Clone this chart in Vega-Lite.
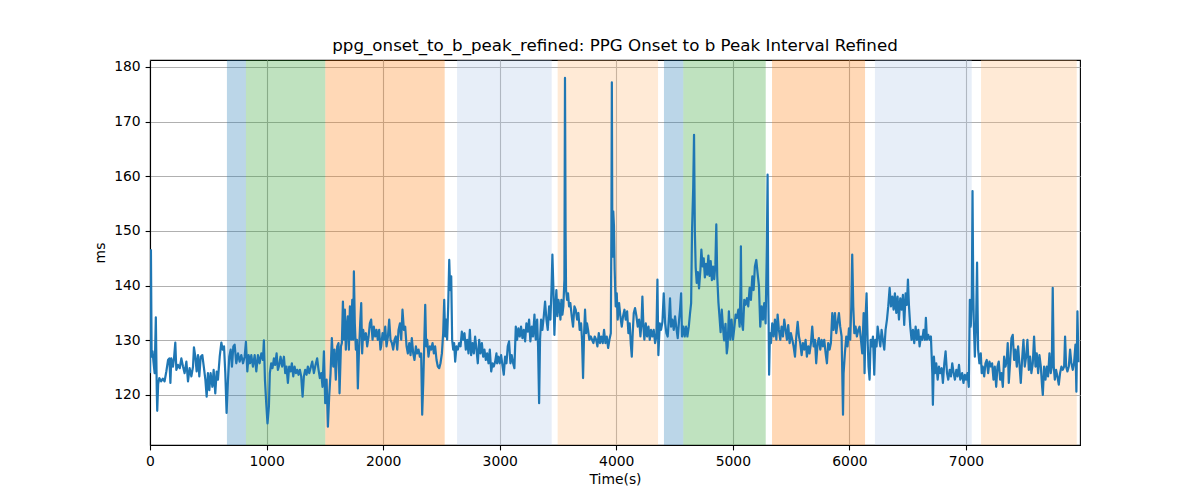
{
"$schema": "https://vega.github.io/schema/vega-lite/v6.json",
"width": 930, "height": 385,
"autosize": {"type": "none"},
"padding": {"left": 150, "top": 60, "right": 120, "bottom": 55},
"background": "white",
"title": {"text": "ppg_onset_to_b_peak_refined: PPG Onset to b Peak Interval Refined", "fontSize": 16.7, "fontWeight": "normal", "font": "DejaVu Sans", "color": "black", "offset": 5},
"config": {
  "view": {"stroke": "black", "strokeWidth": 1.1},
  "axis": {"grid": true, "gridColor": "#b0b0b0", "gridWidth": 1.1, "tickColor": "black", "tickSize": 4.9, "tickWidth": 1.1, "domainColor": "black", "domainWidth": 1.1, "labelFont": "DejaVu Sans", "labelFontSize": 13.9, "labelColor": "black", "labelPadding": 4.9, "titleFont": "DejaVu Sans", "titleFontSize": 13.9, "titleFontWeight": "normal", "titleColor": "black", "labelFlush": false, "labelOverlap": false}
},
"datasets": {
"bands": [
{"start": 660, "end": 823, "phase": "p1"},
{"start": 823, "end": 1504, "phase": "p2"},
{"start": 1504, "end": 2528, "phase": "p3"},
{"start": 2634, "end": 3446, "phase": "p4"},
{"start": 3497, "end": 4358, "phase": "p5"},
{"start": 4409, "end": 4575, "phase": "p1"},
{"start": 4575, "end": 5282, "phase": "p2"},
{"start": 5336, "end": 6134, "phase": "p3"},
{"start": 6219, "end": 7049, "phase": "p4"},
{"start": 7129, "end": 7950, "phase": "p5"}
],
"series": [
{"t":0,"v":124},{"t":8,"v":146.5},{"t":14,"v":127},{"t":22,"v":128},{"t":30,"v":126},{"t":40,"v":124},{"t":50,"v":134.2},{"t":58,"v":121},{"t":62,"v":117.1},{"t":70,"v":122},{"t":80,"v":123.1},{"t":95,"v":122.5},{"t":110,"v":123},{"t":125,"v":122.5},{"t":140,"v":124.3},{"t":155,"v":126.4},{"t":166,"v":126.7},{"t":175,"v":122.2},{"t":183,"v":126.7},{"t":197,"v":125.2},{"t":206,"v":126.7},{"t":217,"v":129.6},{"t":226,"v":124.6},{"t":240,"v":125.5},{"t":255,"v":124.9},{"t":269,"v":126.7},{"t":283,"v":125.2},{"t":297,"v":124},{"t":312,"v":126.1},{"t":326,"v":122.5},{"t":340,"v":124.9},{"t":355,"v":123.4},{"t":369,"v":125.2},{"t":377,"v":128.7},{"t":389,"v":127},{"t":400,"v":124.3},{"t":412,"v":127.3},{"t":423,"v":123.4},{"t":435,"v":127},{"t":449,"v":127.3},{"t":463,"v":124.9},{"t":475,"v":122.8},{"t":486,"v":119.7},{"t":497,"v":124},{"t":509,"v":120.9},{"t":520,"v":124},{"t":535,"v":121.5},{"t":546,"v":124.6},{"t":560,"v":120.3},{"t":572,"v":124.3},{"t":583,"v":122.8},{"t":598,"v":127},{"t":612,"v":129.6},{"t":623,"v":128.3},{"t":635,"v":128.9},{"t":646,"v":124},{"t":657,"v":116.7},{"t":669,"v":122.8},{"t":680,"v":127},{"t":692,"v":128.3},{"t":703,"v":125.2},{"t":715,"v":128.9},{"t":726,"v":129.2},{"t":740,"v":125.8},{"t":755,"v":127.6},{"t":769,"v":126.1},{"t":783,"v":127.3},{"t":798,"v":125.8},{"t":812,"v":127},{"t":823,"v":129.7},{"t":835,"v":124.3},{"t":846,"v":127.3},{"t":858,"v":125.8},{"t":869,"v":127.3},{"t":883,"v":125.2},{"t":898,"v":127.3},{"t":912,"v":124.3},{"t":926,"v":127.3},{"t":940,"v":125.8},{"t":955,"v":127.6},{"t":969,"v":126.4},{"t":977,"v":130},{"t":986,"v":122.8},{"t":997,"v":118.5},{"t":1008,"v":114.8},{"t":1020,"v":117.9},{"t":1028,"v":124},
{"t":1040,"v":125.8},{"t":1051,"v":124.9},{"t":1063,"v":126.7},{"t":1074,"v":125.5},{"t":1086,"v":127.6},{"t":1097,"v":124.6},{"t":1109,"v":125.5},{"t":1120,"v":127},{"t":1134,"v":125.2},{"t":1149,"v":127},{"t":1160,"v":124},{"t":1171,"v":125.2},{"t":1183,"v":122.2},{"t":1194,"v":125.2},{"t":1206,"v":124.3},{"t":1217,"v":125.8},{"t":1229,"v":123.4},{"t":1240,"v":125.2},{"t":1252,"v":124},{"t":1263,"v":124.6},{"t":1274,"v":123.7},{"t":1286,"v":124.6},{"t":1297,"v":123.4},{"t":1309,"v":119.7},{"t":1320,"v":123.4},{"t":1331,"v":124.6},{"t":1343,"v":123.7},{"t":1354,"v":125.2},{"t":1366,"v":124},{"t":1377,"v":124.9},{"t":1392,"v":126.1},{"t":1406,"v":124},{"t":1420,"v":125.5},{"t":1434,"v":126.7},{"t":1446,"v":124.6},{"t":1457,"v":123.1},{"t":1469,"v":124},{"t":1480,"v":121.5},{"t":1492,"v":128},{"t":1503,"v":118.5},{"t":1515,"v":122.8},{"t":1526,"v":114.2},{"t":1537,"v":119.7},{"t":1549,"v":124},{"t":1560,"v":130.4},{"t":1572,"v":125.2},{"t":1583,"v":128.3},{"t":1594,"v":122.8},{"t":1606,"v":128.9},{"t":1617,"v":129.5},{"t":1626,"v":120.3},{"t":1638,"v":128.9},{"t":1646,"v":129.5},{"t":1655,"v":137.1},{"t":1663,"v":130.1},{"t":1672,"v":135.6},{"t":1680,"v":128.3},{"t":1689,"v":132.5},{"t":1697,"v":134.4},{"t":1706,"v":128.3},{"t":1715,"v":136.2},{"t":1726,"v":130.1},{"t":1735,"v":137.4},{"t":1743,"v":130.1},{"t":1749,"v":142.6},{"t":1757,"v":133.1},{"t":1766,"v":128.3},{"t":1775,"v":130.1},{"t":1783,"v":121.2},{"t":1792,"v":127.6},{"t":1803,"v":133.1},{"t":1812,"v":136.8},{"t":1820,"v":127.6},{"t":1829,"v":131.9},{"t":1840,"v":130.1},{"t":1852,"v":131.3},{"t":1863,"v":128.9},{"t":1875,"v":130.7},{"t":1886,"v":133.1},{"t":1897,"v":133.8},{"t":1909,"v":130.1},{"t":1920,"v":132.5},{"t":1932,"v":130.7},{"t":1943,"v":131.9},{"t":1954,"v":130.1},{"t":1966,"v":131.9},{"t":1977,"v":128.3},
{"t":1983,"v":128.9},{"t":1995,"v":131.3},{"t":2006,"v":130.1},{"t":2018,"v":132.5},{"t":2029,"v":128.9},{"t":2041,"v":130.7},{"t":2052,"v":133.8},{"t":2063,"v":130.1},{"t":2075,"v":129.5},{"t":2086,"v":128.3},{"t":2098,"v":130.1},{"t":2109,"v":130.7},{"t":2121,"v":128.3},{"t":2132,"v":131.9},{"t":2144,"v":133.1},{"t":2155,"v":130.1},{"t":2166,"v":135.6},{"t":2178,"v":131.9},{"t":2189,"v":132.5},{"t":2201,"v":128.9},{"t":2212,"v":127.6},{"t":2224,"v":129.5},{"t":2235,"v":127.3},{"t":2246,"v":130.4},{"t":2258,"v":127.6},{"t":2269,"v":126.4},{"t":2281,"v":128.9},{"t":2292,"v":127.6},{"t":2304,"v":128.3},{"t":2315,"v":127},{"t":2326,"v":127.6},{"t":2335,"v":116.4},{"t":2344,"v":122.2},{"t":2352,"v":128.9},{"t":2361,"v":136.5},{"t":2369,"v":128.9},{"t":2378,"v":130.1},{"t":2389,"v":127},{"t":2401,"v":128.9},{"t":2412,"v":128.3},{"t":2424,"v":129.5},{"t":2435,"v":127.6},{"t":2446,"v":128.9},{"t":2458,"v":126.4},{"t":2469,"v":125.2},{"t":2481,"v":124.9},{"t":2492,"v":125.8},{"t":2504,"v":127.6},{"t":2515,"v":131.3},{"t":2524,"v":137.4},{"t":2532,"v":130.7},{"t":2541,"v":133.8},{"t":2549,"v":130.1},{"t":2558,"v":136.2},{"t":2567,"v":144.7},{"t":2575,"v":139.2},{"t":2584,"v":141.7},{"t":2592,"v":130.1},{"t":2601,"v":128.3},{"t":2609,"v":129.5},{"t":2618,"v":126.1},{"t":2629,"v":128.9},{"t":2641,"v":128.3},{"t":2652,"v":129.5},{"t":2664,"v":128.9},{"t":2675,"v":131.6},{"t":2687,"v":130.1},{"t":2698,"v":131.3},{"t":2709,"v":128.3},{"t":2721,"v":130.1},{"t":2732,"v":127.6},{"t":2744,"v":131.9},{"t":2755,"v":127.3},{"t":2767,"v":129.5},{"t":2778,"v":127.6},{"t":2789,"v":130.7},{"t":2801,"v":128.3},{"t":2812,"v":125.8},{"t":2824,"v":130.1},{"t":2835,"v":127.6},{"t":2847,"v":129.5},{"t":2858,"v":127},{"t":2869,"v":128.3},{"t":2881,"v":126.4},{"t":2892,"v":127.6},{"t":2904,"v":125.8},{"t":2915,"v":128.3},{"t":2927,"v":124.3},{"t":2938,"v":125.8},{"t":2949,"v":125.2},{"t":2961,"v":126.1},
{"t":2972,"v":127.6},{"t":2977,"v":125.8},{"t":2989,"v":127},{"t":3000,"v":125.8},{"t":3012,"v":127.3},{"t":3023,"v":125.5},{"t":3035,"v":123.7},{"t":3046,"v":127},{"t":3058,"v":125.8},{"t":3069,"v":128.9},{"t":3080,"v":129.8},{"t":3092,"v":125.8},{"t":3103,"v":127.3},{"t":3115,"v":125.8},{"t":3126,"v":124.9},{"t":3138,"v":132.5},{"t":3149,"v":130.1},{"t":3160,"v":132.2},{"t":3172,"v":130.7},{"t":3183,"v":132.5},{"t":3195,"v":130.4},{"t":3206,"v":131.9},{"t":3218,"v":129.8},{"t":3229,"v":133.1},{"t":3241,"v":131.6},{"t":3252,"v":133.8},{"t":3263,"v":129.8},{"t":3275,"v":132.5},{"t":3286,"v":130.7},{"t":3298,"v":134.7},{"t":3309,"v":130.1},{"t":3321,"v":133.8},{"t":3329,"v":128.9},{"t":3338,"v":118.5},{"t":3346,"v":130.1},{"t":3355,"v":133.8},{"t":3366,"v":131.9},{"t":3378,"v":134.4},{"t":3389,"v":137.1},{"t":3401,"v":133.8},{"t":3412,"v":131.9},{"t":3424,"v":136.2},{"t":3435,"v":133.8},{"t":3444,"v":139.2},{"t":3452,"v":145.7},{"t":3461,"v":139.2},{"t":3469,"v":131},{"t":3478,"v":136.2},{"t":3486,"v":139.2},{"t":3495,"v":134.4},{"t":3504,"v":137.4},{"t":3512,"v":136.2},{"t":3521,"v":133.8},{"t":3529,"v":137.4},{"t":3538,"v":134.7},{"t":3546,"v":136.2},{"t":3555,"v":141.1},{"t":3560,"v":178},{"t":3565,"v":150},{"t":3569,"v":139.2},{"t":3578,"v":137.4},{"t":3586,"v":138.6},{"t":3595,"v":136.2},{"t":3606,"v":136.8},{"t":3618,"v":134.4},{"t":3629,"v":132.5},{"t":3641,"v":136.2},{"t":3652,"v":135.6},{"t":3664,"v":133.8},{"t":3675,"v":135},{"t":3686,"v":131.9},{"t":3698,"v":133.1},{"t":3706,"v":130.1},{"t":3715,"v":123.1},{"t":3724,"v":131.3},{"t":3732,"v":135.6},{"t":3741,"v":131.3},{"t":3749,"v":133.1},{"t":3758,"v":131.9},{"t":3769,"v":130.1},{"t":3781,"v":130.7},{"t":3792,"v":130.1},{"t":3804,"v":129.5},{"t":3815,"v":130.7},{"t":3827,"v":130.1},{"t":3838,"v":128.9},{"t":3850,"v":131.3},{"t":3861,"v":129.5},{"t":3872,"v":130.7},{"t":3884,"v":129.5},{"t":3895,"v":131.9},{"t":3907,"v":129.5},{"t":3918,"v":130.7},{"t":3930,"v":128.6},{"t":3941,"v":130.1},{"t":3953,"v":131.3},
{"t":3958,"v":150},{"t":3962,"v":177.2},{"t":3966,"v":150},{"t":3970,"v":145.3},{"t":3974,"v":153.6},{"t":3980,"v":151},{"t":3986,"v":143},{"t":3995,"v":136.2},{"t":4004,"v":138.6},{"t":4012,"v":133.8},{"t":4024,"v":136.8},{"t":4035,"v":134.4},{"t":4047,"v":132.5},{"t":4058,"v":134.4},{"t":4070,"v":135.6},{"t":4081,"v":133.8},{"t":4093,"v":135.3},{"t":4104,"v":131.3},{"t":4115,"v":133.1},{"t":4124,"v":129.5},{"t":4133,"v":127},{"t":4141,"v":131.3},{"t":4150,"v":135},{"t":4161,"v":135.9},{"t":4173,"v":134.4},{"t":4184,"v":132.5},{"t":4196,"v":133.8},{"t":4207,"v":130.7},{"t":4216,"v":133.1},{"t":4224,"v":138},{"t":4233,"v":132.5},{"t":4241,"v":130.1},{"t":4253,"v":133.1},{"t":4264,"v":130.7},{"t":4276,"v":132.5},{"t":4287,"v":130.1},{"t":4298,"v":131.9},{"t":4310,"v":130.7},{"t":4321,"v":131.9},{"t":4333,"v":129.5},{"t":4344,"v":130.7},{"t":4353,"v":141.1},{"t":4361,"v":127.3},{"t":4373,"v":133.1},{"t":4384,"v":131.9},{"t":4396,"v":133.4},{"t":4407,"v":138.6},{"t":4419,"v":133.1},{"t":4430,"v":131.3},{"t":4441,"v":130.7},{"t":4453,"v":134.4},{"t":4461,"v":137.7},{"t":4470,"v":132.5},{"t":4481,"v":133.8},{"t":4493,"v":131.9},{"t":4504,"v":134.4},{"t":4516,"v":132.2},{"t":4527,"v":130.4},{"t":4539,"v":133.8},{"t":4547,"v":135.6},{"t":4556,"v":138.6},{"t":4564,"v":130.7},{"t":4576,"v":132.5},{"t":4587,"v":130.7},{"t":4599,"v":132.5},{"t":4610,"v":130.7},{"t":4622,"v":132.5},{"t":4633,"v":135},
{"t":4642,"v":136.8},{"t":4650,"v":150.2},{"t":4660,"v":158},{"t":4667,"v":167.6},{"t":4674,"v":150},{"t":4681,"v":143.4},{"t":4690,"v":140.5},{"t":4700,"v":142.5},{"t":4710,"v":139.5},{"t":4722,"v":143},{"t":4730,"v":146.6},{"t":4740,"v":143.5},{"t":4750,"v":145},{"t":4760,"v":141.5},{"t":4770,"v":144},{"t":4780,"v":142},{"t":4790,"v":145.5},{"t":4800,"v":141.8},{"t":4810,"v":144.5},{"t":4820,"v":141},{"t":4830,"v":143.5},{"t":4840,"v":141.2},{"t":4850,"v":143.8},{"t":4858,"v":151.2},{"t":4866,"v":141.7},{"t":4876,"v":137},{"t":4885,"v":134.4},{"t":4895,"v":131.5},{"t":4905,"v":135.6},{"t":4915,"v":132.5},{"t":4925,"v":130},{"t":4937,"v":133},{"t":4948,"v":127.6},{"t":4955,"v":128.9},
{"t":4966,"v":135.3},{"t":4978,"v":130.1},{"t":4989,"v":133.8},{"t":5001,"v":130.1},{"t":5012,"v":132.2},{"t":5024,"v":134.7},{"t":5035,"v":134.1},{"t":5047,"v":135.6},{"t":5058,"v":132.5},{"t":5066,"v":140},{"t":5069,"v":147.2},{"t":5074,"v":135},{"t":5078,"v":133.1},{"t":5087,"v":131.9},{"t":5098,"v":137.4},{"t":5109,"v":136.5},{"t":5121,"v":137.7},{"t":5132,"v":136.2},{"t":5144,"v":139.6},{"t":5155,"v":137.4},{"t":5167,"v":141.7},{"t":5178,"v":139.2},{"t":5189,"v":143.5},{"t":5201,"v":144.7},{"t":5212,"v":142.3},{"t":5224,"v":139.9},{"t":5235,"v":132.5},{"t":5247,"v":136.2},{"t":5258,"v":133.8},{"t":5269,"v":136.8},{"t":5281,"v":133.1},{"t":5292,"v":147.8},{"t":5298,"v":160.3},{"t":5303,"v":140},{"t":5307,"v":133.1},{"t":5311,"v":123.7},{"t":5318,"v":131.3},{"t":5327,"v":129.5},{"t":5338,"v":133.1},{"t":5350,"v":130.7},{"t":5361,"v":133.8},{"t":5373,"v":130.1},{"t":5384,"v":134.7},{"t":5395,"v":131.9},{"t":5407,"v":130.1},{"t":5418,"v":132.5},{"t":5430,"v":130.7},{"t":5441,"v":133.8},{"t":5453,"v":131.9},{"t":5464,"v":130.1},{"t":5475,"v":132.8},{"t":5487,"v":129.5},{"t":5498,"v":131.3},{"t":5510,"v":130.1},{"t":5521,"v":128.9},{"t":5533,"v":127},{"t":5544,"v":130.7},{"t":5556,"v":133.4},{"t":5567,"v":130.7},{"t":5578,"v":129.5},{"t":5590,"v":127.3},{"t":5601,"v":129.5},{"t":5613,"v":128.3},{"t":5624,"v":130.1},{"t":5635,"v":127},{"t":5647,"v":128.9},{"t":5658,"v":127.6},{"t":5670,"v":129.5},{"t":5681,"v":132.5},{"t":5693,"v":128.9},{"t":5704,"v":130.1},{"t":5715,"v":125.8},{"t":5727,"v":129.5},{"t":5738,"v":130.4},{"t":5750,"v":128.3},{"t":5761,"v":130.1},{"t":5773,"v":128.9},{"t":5784,"v":130.1},{"t":5796,"v":127.6},{"t":5807,"v":125.8},{"t":5818,"v":129.5},{"t":5830,"v":128.3},{"t":5841,"v":129.5},{"t":5853,"v":135},{"t":5864,"v":131.9},{"t":5876,"v":135},{"t":5887,"v":131.3},{"t":5898,"v":133.1},{"t":5910,"v":135},{"t":5921,"v":132.5},{"t":5933,"v":130.7},{"t":5945,"v":116.4},{"t":5950,"v":124},{"t":5961,"v":127.6},
{"t":5973,"v":130.7},{"t":5984,"v":128.9},{"t":5996,"v":132.2},{"t":6007,"v":130.1},{"t":6016,"v":136.2},{"t":6024,"v":145.7},{"t":6033,"v":136.2},{"t":6042,"v":131.3},{"t":6053,"v":132.5},{"t":6064,"v":130.7},{"t":6076,"v":131.9},{"t":6087,"v":132.5},{"t":6099,"v":130.1},{"t":6110,"v":127.6},{"t":6122,"v":135},{"t":6130,"v":124},{"t":6139,"v":134.4},{"t":6147,"v":138.6},{"t":6156,"v":130.1},{"t":6164,"v":125.2},{"t":6173,"v":122.8},{"t":6182,"v":130.1},{"t":6190,"v":128.9},{"t":6202,"v":130.7},{"t":6213,"v":123.7},{"t":6222,"v":130.1},{"t":6233,"v":128.9},{"t":6242,"v":132.5},{"t":6253,"v":130.7},{"t":6265,"v":128.9},{"t":6276,"v":131.9},{"t":6287,"v":130.1},{"t":6299,"v":128.3},{"t":6310,"v":131.9},{"t":6322,"v":133.8},{"t":6333,"v":136.2},{"t":6345,"v":139.6},{"t":6356,"v":136.2},{"t":6368,"v":138},{"t":6379,"v":135.6},{"t":6390,"v":138.6},{"t":6402,"v":135},{"t":6413,"v":138},{"t":6425,"v":133.8},{"t":6436,"v":137.7},{"t":6448,"v":135.6},{"t":6459,"v":138.3},{"t":6470,"v":132.8},{"t":6482,"v":138.6},{"t":6493,"v":136.5},{"t":6502,"v":141.1},{"t":6511,"v":136.2},{"t":6522,"v":132.5},{"t":6533,"v":130.1},{"t":6545,"v":131.9},{"t":6556,"v":129.5},{"t":6568,"v":132.5},{"t":6579,"v":130.1},{"t":6591,"v":131.9},{"t":6602,"v":128.9},{"t":6613,"v":130.7},{"t":6625,"v":130.1},{"t":6636,"v":131.9},{"t":6648,"v":130.1},{"t":6656,"v":134.1},{"t":6665,"v":130.1},{"t":6676,"v":131},{"t":6688,"v":130.1},{"t":6699,"v":130.7},{"t":6711,"v":124},{"t":6716,"v":118.2},{"t":6725,"v":127},{"t":6734,"v":124},{"t":6745,"v":125.8},{"t":6757,"v":122.8},{"t":6768,"v":125.2},{"t":6779,"v":124},{"t":6791,"v":124.9},{"t":6802,"v":122.2},{"t":6814,"v":125.8},{"t":6825,"v":128},{"t":6837,"v":124},{"t":6848,"v":122.8},{"t":6860,"v":124.6},{"t":6871,"v":123.4},{"t":6882,"v":125.8},{"t":6894,"v":124},{"t":6905,"v":122.8},{"t":6917,"v":124.6},{"t":6928,"v":123.4},{"t":6940,"v":125.5},{"t":6951,"v":122.8},
{"t":6967,"v":124},{"t":6978,"v":122.2},{"t":6990,"v":123.7},{"t":7001,"v":122.8},{"t":7013,"v":124},{"t":7024,"v":121.5},{"t":7033,"v":137.4},{"t":7041,"v":132.5},{"t":7050,"v":138},{"t":7056,"v":157.3},{"t":7062,"v":140},{"t":7067,"v":133.1},{"t":7076,"v":127},{"t":7087,"v":133.8},{"t":7095,"v":144.2},{"t":7100,"v":135},{"t":7104,"v":128.3},{"t":7115,"v":125.8},{"t":7127,"v":127.6},{"t":7135,"v":124},{"t":7144,"v":125.2},{"t":7156,"v":123.4},{"t":7167,"v":125.8},{"t":7178,"v":126.4},{"t":7190,"v":124},{"t":7201,"v":126.1},{"t":7213,"v":125.2},{"t":7224,"v":125.8},{"t":7236,"v":122.8},{"t":7247,"v":125.2},{"t":7259,"v":121.5},{"t":7270,"v":125.2},{"t":7281,"v":126.1},{"t":7293,"v":122.8},{"t":7304,"v":124},{"t":7316,"v":121.5},{"t":7327,"v":127},{"t":7339,"v":125.2},{"t":7350,"v":126.4},{"t":7358,"v":129.5},{"t":7367,"v":122.2},{"t":7378,"v":125.8},{"t":7390,"v":130.4},{"t":7401,"v":131},{"t":7413,"v":126.4},{"t":7424,"v":128.3},{"t":7436,"v":125.2},{"t":7447,"v":128.9},{"t":7458,"v":125.8},{"t":7470,"v":122.2},{"t":7481,"v":126.4},{"t":7493,"v":130.1},{"t":7504,"v":125.2},{"t":7516,"v":127},{"t":7527,"v":130.1},{"t":7539,"v":124.6},{"t":7550,"v":127},{"t":7561,"v":124},{"t":7573,"v":125.8},{"t":7584,"v":130.7},{"t":7596,"v":125.2},{"t":7607,"v":127.6},{"t":7619,"v":124},{"t":7630,"v":127.3},{"t":7642,"v":125.2},{"t":7653,"v":121.5},{"t":7659,"v":120},{"t":7670,"v":125.2},{"t":7682,"v":122.8},{"t":7693,"v":125.2},{"t":7704,"v":123.4},{"t":7716,"v":127.6},{"t":7727,"v":124},{"t":7736,"v":125.2},{"t":7744,"v":139.6},{"t":7753,"v":125.2},{"t":7762,"v":122.8},{"t":7773,"v":124.6},{"t":7784,"v":123.4},{"t":7796,"v":121.9},{"t":7807,"v":124},{"t":7819,"v":125.2},{"t":7830,"v":124.6},{"t":7842,"v":125.2},{"t":7850,"v":130.7},{"t":7859,"v":125.2},{"t":7870,"v":124.3},{"t":7882,"v":125.2},{"t":7893,"v":128.3},{"t":7904,"v":125.8},{"t":7916,"v":124.6},{"t":7927,"v":125.8},{"t":7939,"v":129.2},{"t":7947,"v":120.6},{"t":7956,"v":135.3},{"t":7965,"v":126}
]
},
"layer": [
{
  "data": {"name": "bands"},
  "mark": {"type": "rect", "opacity": 0.3},
  "encoding": {
    "x": {"field": "start", "type": "quantitative", "scale": {"domain": [0, 7978], "nice": false, "zero": false}, "axis": {"values": [0,1000,2000,3000,4000,5000,6000,7000], "format": "d", "title": "Time(s)", "titlePadding": 4}},
    "x2": {"field": "end"},
    "color": {"field": "phase", "type": "nominal", "scale": {"domain": ["p1","p2","p3","p4","p5"], "range": ["#1f77b4","#2ca02c","#ff7f0e","#aec7e8","#ffbb78"]}, "legend": null}
  }
},
{
  "data": {"name": "series"},
  "mark": {"type": "line", "color": "#1f77b4", "strokeWidth": 2.2, "strokeJoin": "round", "clip": true},
  "encoding": {
    "x": {"field": "t", "type": "quantitative"},
    "y": {"field": "v", "type": "quantitative", "scale": {"domain": [110.85, 181.28], "nice": false, "zero": false}, "axis": {"values": [120,130,140,150,160,170,180], "title": "ms", "titlePadding": 6}}
  }
}
]
}
